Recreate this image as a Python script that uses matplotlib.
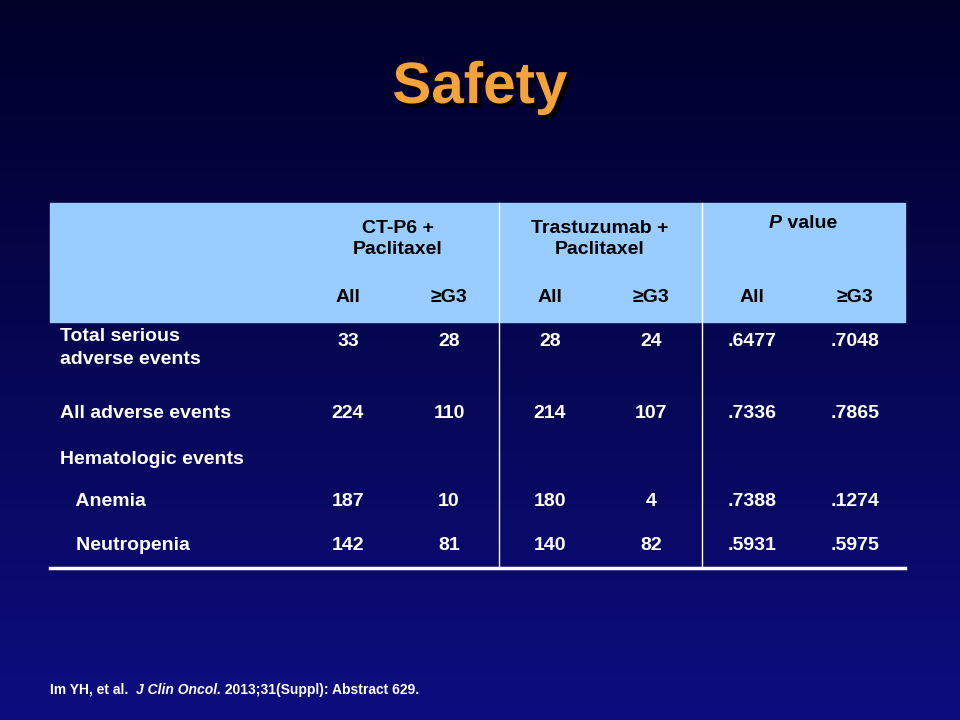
import numpy as np
import matplotlib
matplotlib.use("Agg")
import matplotlib.pyplot as plt
import matplotlib.patheffects as pe

plt.rcParams["font.family"] = ["Liberation Sans", "DejaVu Sans"]

groups = ["CT-P6 +\nPaclitaxel", "Trastuzumab +\nPaclitaxel"]
subcols = ["All", "\u2265G3"] * 3
row_labels = ["Total serious\nadverse events", "All adverse events", "Hematologic events",
              "   Anemia", "   Neutropenia"]
values = [
    ["33", "28", "28", "24", ".6477", ".7048"],
    ["224", "110", "214", "107", ".7336", ".7865"],
    ["", "", "", "", "", ""],
    ["187", "10", "180", "4", ".7388", ".1274"],
    ["142", "81", "140", "82", ".5931", ".5975"],
]
footnote = [("Im YH, et al.  ", "normal"), ("J Clin Oncol.", "italic"),
            (" 2013;31(Suppl): Abstract 629.", "normal")]

fig = plt.figure(figsize=(9.6, 7.2), dpi=100)
ax = fig.add_axes([0, 0, 1, 1])
ax.set_xlim(0, 960)
ax.set_ylim(720, 0)
ax.axis("off")

# background gradient
grad = np.linspace(0, 1, 256).reshape(-1, 1)
top = np.array([0.0, 0.0, 0.16])
bot = np.array([0.05, 0.05, 0.50])
img = top + (bot - top) * grad[..., None]
ax.imshow(img, extent=[0, 960, 720, 0], aspect="auto", zorder=0)

# title with shadow
ax.text(480, 88, "Safety", color="#f4a23a", fontsize=42, fontweight="bold", ha="center", va="center",
        zorder=2, path_effects=[pe.SimplePatchShadow(offset=(3, -3), shadow_rgbFace="black", alpha=1),
                                pe.Normal()])

# table
x0, x1 = 50, 905
ax.add_patch(plt.Rectangle((x0, 203), x1 - x0, 119, color="#99ccff", zorder=1))
for xv in (499, 702):
    ax.plot([xv, xv], [203, 568], color="white", lw=1, zorder=2)
ax.plot([x0, x1], [568, 568], color="white", lw=2.5, zorder=2)

col_x = [348, 449, 550, 651, 752, 855]
for gx, g in zip([398, 600], groups):
    ax.text(gx, 239, g, ha="center", va="center", fontsize=14, fontweight="bold",
            color="black", linespacing=1.35)
for cx, s in zip(col_x, subcols):
    ax.text(cx, 297, s, ha="center", va="center", fontsize=14, fontweight="bold", color="black")

row_y = [341, 414, 459, 501, 545]
for i, (ry, lab, vals) in enumerate(zip(row_y, row_labels, values)):
    if "\n" in lab:
        ax.text(60, ry - 13, lab, ha="left", va="top", fontsize=14, fontweight="bold",
                color="white", linespacing=1.45)
    else:
        ax.text(60, ry, lab, ha="left", va="center", fontsize=14, fontweight="bold", color="white")
    for cx, v in zip(col_x, vals):
        ax.text(cx, ry, v, ha="center", va="center", fontsize=14, fontweight="bold", color="white")


def chain(x, y, parts, size, color):
    fig.canvas.draw()
    r = fig.canvas.get_renderer()
    for s, style in parts:
        t = ax.text(x, y, s, ha="left", va="center", fontsize=size, fontweight="bold",
                    fontstyle=style, color=color)
        bb = t.get_window_extent(r)
        x += bb.width


# P value header
chain(769, 224, [("P", "italic"), (" value", "normal")], 14, "black")
# footnote
chain(50, 690, footnote, 10, "white")

fig.savefig("out.png", dpi=100)
